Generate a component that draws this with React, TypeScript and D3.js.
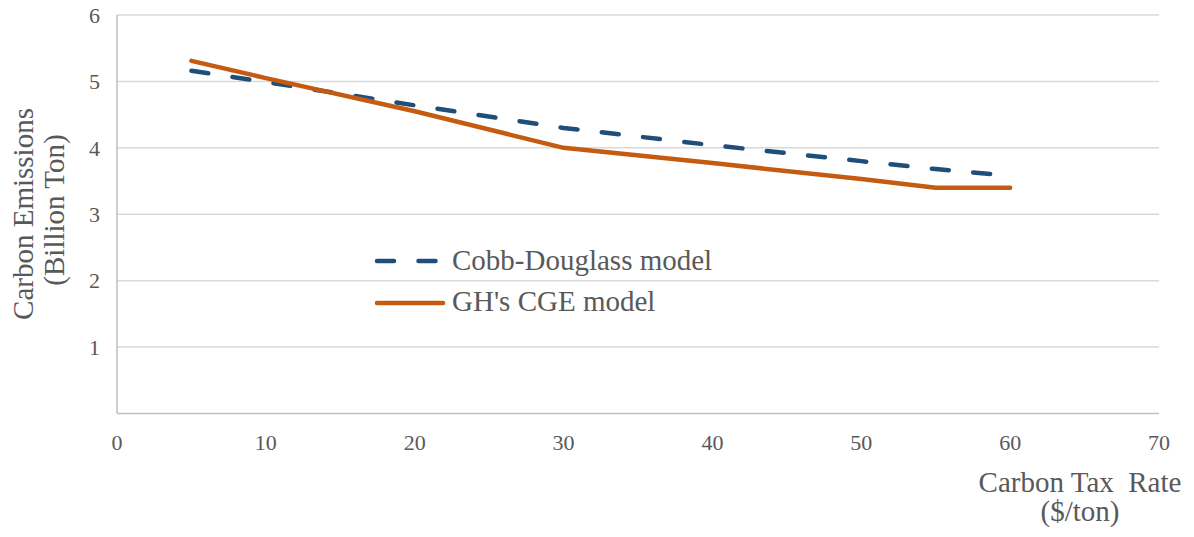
import React from "react";
import * as d3 from "d3";

const taxRates = [5, 10, 20, 30, 40, 50, 55, 60];
const cobbDouglas = [5.16, 4.99, 4.64, 4.3, 4.04, 3.8, 3.68, 3.58];
const ghCge = [5.31, 5.05, 4.55, 4.0, 3.77, 3.53, 3.4, 3.4];
const xTicks = [0, 10, 20, 30, 40, 50, 60, 70];
const yTicks = [0, 1, 2, 3, 4, 5, 6];
const seriesNames = ["Cobb-Douglass model", "GH's CGE model"];

const W = 1194;
const H = 537;
const FONT = "Liberation Serif";
const TEXT = "#595959";
const BLUE = "#1F4E79";
const ORANGE = "#C55A11";
const ts = { fontFamily: FONT };

export default function App() {
  const x = d3.scaleLinear().domain([0, 70]).range([117, 1159]);
  const y = d3.scaleLinear().domain([0, 6]).range([413.5, 15]);
  const line = d3
    .line<number>()
    .x((_, i) => x(taxRates[i]))
    .y((d) => y(d));

  return (
    <svg
      width={W}
      height={H}
      style={{ position: "absolute", left: 0, top: 0, background: "#fff" }}
    >
      {yTicks
        .filter((t) => t > 0)
        .map((t) => (
          <line
            key={"g" + t}
            x1={x(0)}
            x2={x(70)}
            y1={y(t)}
            y2={y(t)}
            stroke="#d9d9d9"
            strokeWidth={1.5}
          />
        ))}
      <line x1={x(0)} x2={x(70)} y1={y(0)} y2={y(0)} stroke="#bfbfbf" strokeWidth={1.5} />
      <line x1={x(0)} x2={x(0)} y1={y(0)} y2={y(6)} stroke="#bfbfbf" strokeWidth={1.5} />

      {yTicks.map((t) => (
        <text
          key={"yl" + t}
          x={100}
          y={y(t)}
          dy="0.35em"
          textAnchor="end"
          fontSize={22}
          fill={TEXT}
          style={ts}
        >
          {t === 0 ? "" : t}
        </text>
      ))}
      {xTicks.map((t) => (
        <text key={"xl" + t} x={x(t)} y={450} textAnchor="middle" fontSize={22} fill={TEXT} style={ts}>
          {t}
        </text>
      ))}

      <path
        d={line(cobbDouglas) || ""}
        fill="none"
        stroke={BLUE}
        strokeWidth={4.5}
        strokeDasharray="17 24.5"
        strokeLinecap="round"
        strokeLinejoin="round"
      />
      <path
        d={line(ghCge) || ""}
        fill="none"
        stroke={ORANGE}
        strokeWidth={4.5}
        strokeLinecap="round"
        strokeLinejoin="round"
      />

      {/* legend */}
      <line x1={377} x2={440} y1={261} y2={261} stroke={BLUE} strokeWidth={4.5} strokeDasharray="17 24.5" strokeLinecap="round" />
      <text x={452} y={270} fontSize={29} fill={TEXT} style={ts}>
        {seriesNames[0]}
      </text>
      <line x1={377} x2={443} y1={303} y2={303} stroke={ORANGE} strokeWidth={4.5} strokeLinecap="round" />
      <text x={452} y={311} fontSize={29} fill={TEXT} style={ts}>
        {seriesNames[1]}
      </text>

      {/* axis titles */}
      <text x={1080} y={492} textAnchor="middle" fontSize={29} fill={TEXT} style={{ ...ts, whiteSpace: "pre" }}>
        {"Carbon Tax  Rate"}
      </text>
      <text x={1080} y={521} textAnchor="middle" fontSize={29} fill={TEXT} style={ts}>
        ($/ton)
      </text>
      <text transform="translate(33,214) rotate(-90)" textAnchor="middle" fontSize={29} fill={TEXT} style={ts}>
        Carbon Emissions
      </text>
      <text transform="translate(64,210) rotate(-90)" textAnchor="middle" fontSize={29} fill={TEXT} style={ts}>
        (Billion Ton)
      </text>
    </svg>
  );
}
